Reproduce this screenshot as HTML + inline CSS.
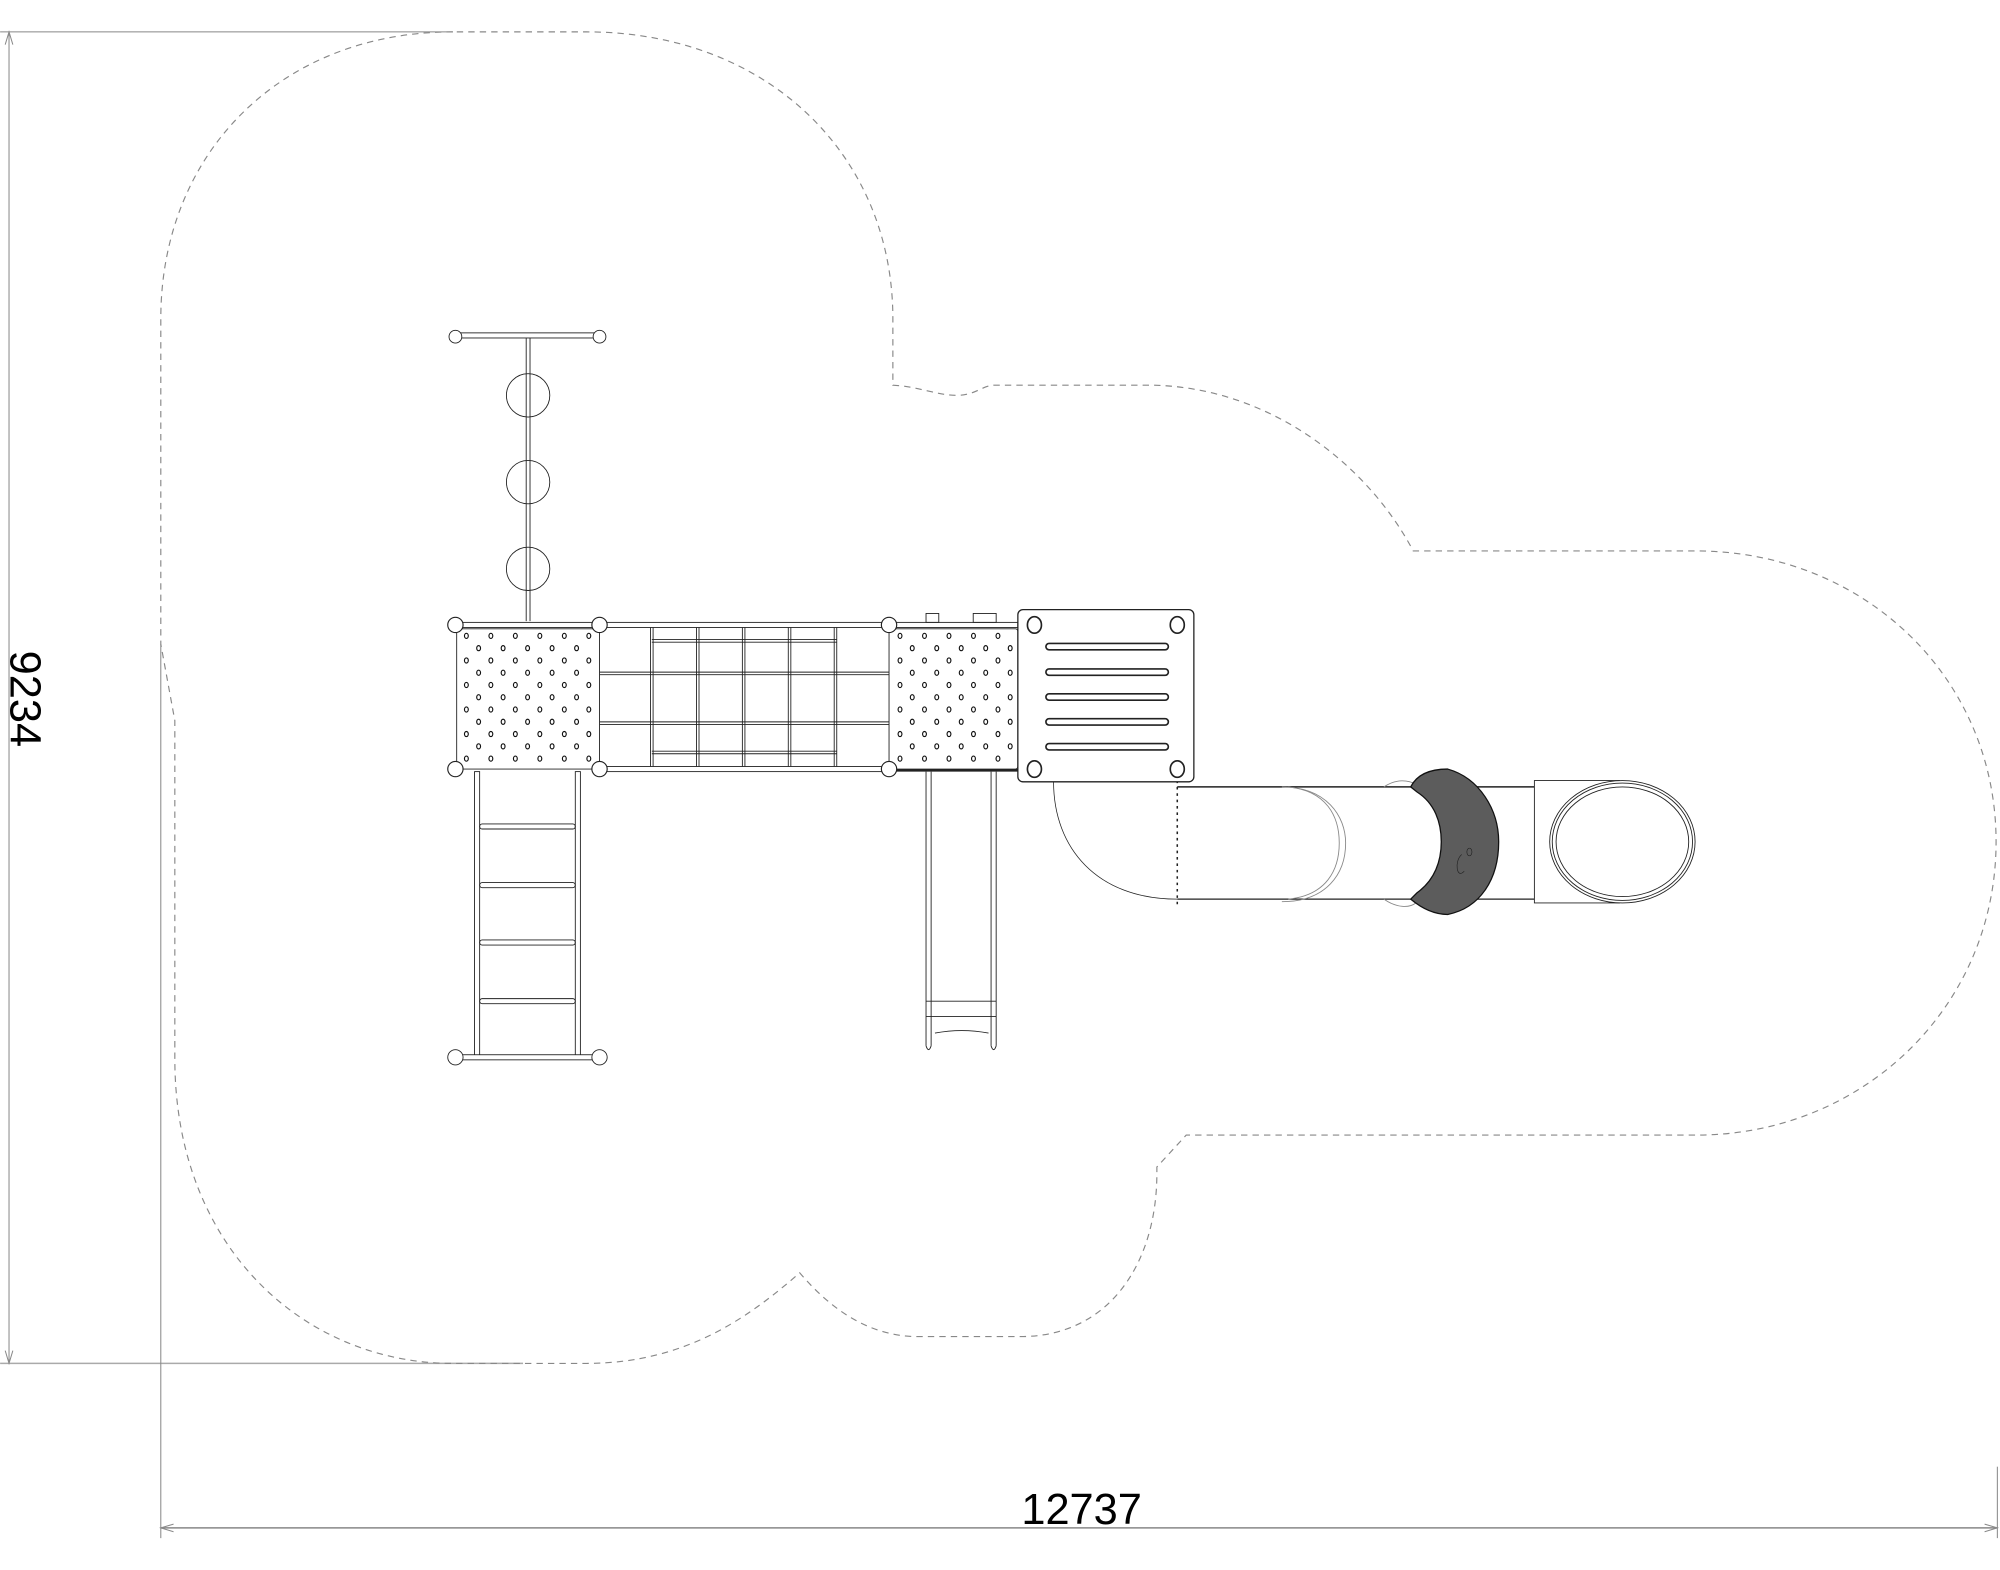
<!DOCTYPE html>
<html><head><meta charset="utf-8"><style>
html,body{margin:0;padding:0;background:#fff;}
svg{display:block}
</style></head><body>
<svg id="s" width="2000" height="1570" viewBox="0 0 1568 1231" xmlns="http://www.w3.org/2000/svg" font-family="Liberation Sans, sans-serif">
<!-- dimension lines -->
<g stroke="#888" stroke-width="0.8" fill="none">
<line x1="7" y1="25" x2="7" y2="1069"/>
<line x1="0" y1="25" x2="355" y2="25"/>
<line x1="0" y1="1069" x2="410" y2="1069" stroke="#aaa" stroke-width="1.2"/>
<line x1="126" y1="505" x2="126" y2="1206"/>
<line x1="1566" y1="1150" x2="1566" y2="1206"/>
<line x1="126" y1="1198" x2="1566" y2="1198" stroke-width="1.2"/>
<path d="M4,35 L7,25 L10,35 M4,1059 L7,1069 L10,1059 M136,1195 L126,1198 L136,1201 M1556,1195 L1566,1198 L1556,1201"/>
</g>
<text x="848" y="1195" font-size="34" text-anchor="middle" fill="#000">12737</text>
<text transform="translate(8,548) rotate(90)" font-size="34" text-anchor="middle" fill="#000">9234</text>
<!-- dashed boundary -->
<path fill="none" stroke="#888" stroke-width="0.9" stroke-dasharray="5,4" d="
M355,25 C220,25 126,120 126,250 L126,505 L137,565 L137,830 C137,980 240,1069 355,1069 L460,1069
C540,1069 590,1030 627,998 C650,1025 680,1048 720,1048 L800,1048 C870,1048 907,990 907,920 L907,915 L930,890
L1330,890 C1460,890 1565,790 1565,660 C1565,530 1460,432 1330,432 L1108,432
C1070,360 990,302 900,302 L780,302 C770,302 765,310 750,310 C735,310 720,303 700,302 L700,250
C700,120 600,25 460,25 Z"/>
<g stroke="#222" stroke-width="0.7" fill="none">
<!-- top pole -->
<rect x="357" y="261" width="113" height="4" fill="#fff"/>
<line x1="412.5" y1="265" x2="412.5" y2="487"/><line x1="415.5" y1="265" x2="415.5" y2="487"/>
<circle cx="414" cy="310" r="17"/><circle cx="414" cy="378" r="17"/><circle cx="414" cy="446" r="17"/>
<circle cx="357" cy="264" r="5" fill="#fff"/><circle cx="470" cy="264" r="5" fill="#fff"/>
<!-- left deck -->
<rect x="358" y="493" width="112" height="110" rx="2" fill="#fff"/>
<rect x="357" y="488" width="113" height="4" fill="#fff"/>
<!-- net -->
<rect x="470" y="488" width="227" height="4" fill="#fff"/>
<rect x="470" y="601" width="227" height="4" fill="#fff"/>
<g id="net"></g>
<line x1="470" y1="527" x2="697" y2="527"/><line x1="470" y1="529" x2="697" y2="529"/>
<line x1="470" y1="566" x2="697" y2="566"/><line x1="470" y1="568" x2="697" y2="568"/>
<line x1="511" y1="501.5" x2="656" y2="501.5"/><line x1="511" y1="503.5" x2="656" y2="503.5"/>
<line x1="511" y1="589" x2="656" y2="589"/><line x1="511" y1="591" x2="656" y2="591"/>
<!-- ladder -->
<rect x="372" y="605" width="4" height="223" fill="#fff"/>
<rect x="451" y="605" width="4" height="223" fill="#fff"/>
<rect x="376" y="646" width="75" height="4" rx="2"/>
<rect x="376" y="692" width="75" height="4" rx="2"/>
<rect x="376" y="737" width="75" height="4" rx="2"/>
<rect x="376" y="783" width="75" height="4" rx="2"/>
<rect x="357" y="827" width="113" height="4" fill="#fff"/>
<circle cx="357" cy="829" r="6" fill="#fff"/><circle cx="470" cy="829" r="6" fill="#fff"/>
<!-- right deck -->
<rect x="697" y="493" width="101" height="110" rx="2" fill="#fff"/>
<rect x="697" y="488" width="101" height="4" fill="#fff"/>
<line x1="697" y1="604" x2="798" y2="604" stroke-width="2"/>
<rect x="726" y="481" width="10" height="7"/><rect x="763" y="481" width="18" height="7"/>
<!-- slide -->
<line x1="726" y1="605" x2="726" y2="820"/><line x1="730" y1="605" x2="730" y2="820"/>
<line x1="777" y1="605" x2="777" y2="820"/><line x1="781" y1="605" x2="781" y2="820"/>
<line x1="726" y1="785" x2="781" y2="785"/><line x1="726" y1="797" x2="781" y2="797"/>
<path d="M726,820 Q728,826 730,820 M777,820 Q779,826 781,820 M733,810 Q754,806 775,810"/>
<!-- corner balls -->
<g fill="#fff" stroke-width="0.9">
<circle cx="357" cy="490" r="6"/><circle cx="470" cy="490" r="6"/><circle cx="357" cy="603" r="6"/><circle cx="470" cy="603" r="6"/>
<circle cx="697" cy="490" r="6"/><circle cx="697" cy="603" r="6"/>
</g>
<!-- tube -->
<path d="M826,613 C826,665 860,705 923,705" stroke-width="0.6"/>
<line x1="923" y1="617" x2="1203" y2="617" stroke-width="1.2"/>
<line x1="923" y1="705" x2="1203" y2="705" stroke-width="1"/>
<line x1="923" y1="612" x2="923" y2="710" stroke-dasharray="2,3" stroke-width="1.2"/>
<path d="M1005,617 C1040,617 1055,640 1055,661 C1055,685 1040,707 1005,707" stroke="#888"/>
<path d="M1010,617 C1040,620 1050,640 1050,661 C1050,682 1040,702 1010,705" stroke="#888"/>
<path d="M1085,617 C1095,610 1105,612 1110,615 M1085,705 C1095,712 1105,712 1110,708" stroke="#888"/>
<!-- dark band -->
<path d="M1106,617 C1112,605 1125,603 1135,603 C1160,610 1175,635 1175,660 C1175,690 1160,712 1135,717 C1122,717 1112,710 1106,705 L1111,700 C1125,690 1130,675 1130,660 C1130,645 1125,630 1111,621 Z" fill="#5c5c5c" stroke="#111" stroke-width="1"/>
<path d="M1146,670 C1140,675 1142,690 1148,683 M1152,665 a2,3 0 1 0 0.1,0" stroke="#222" stroke-width="0.5"/>
<!-- end box -->
<path d="M1270,612 L1203,612 L1203,708 L1270,708" fill="#fff"/>
<ellipse cx="1272" cy="660" rx="57" ry="48" fill="#fff"/>
<ellipse cx="1272" cy="660" rx="55" ry="46"/>
<ellipse cx="1272" cy="660" rx="52" ry="43"/>
<!-- roof panel -->
<rect x="798" y="478" width="138" height="135" rx="4" fill="#fff" stroke-width="1"/>
<g stroke-width="1.3">
<ellipse cx="811" cy="490" rx="5.5" ry="6.5"/><ellipse cx="923" cy="490" rx="5.5" ry="6.5"/>
<ellipse cx="811" cy="603" rx="5.5" ry="6.5"/><ellipse cx="923" cy="603" rx="5.5" ry="6.5"/>
<rect x="820" y="504.5" width="96" height="5" rx="2.5"/>
<rect x="820" y="524.5" width="96" height="5" rx="2.5"/>
<rect x="820" y="544" width="96" height="5" rx="2.5"/>
<rect x="820" y="563.5" width="96" height="5" rx="2.5"/>
<rect x="820" y="583" width="96" height="5" rx="2.5"/>
</g>
</g>
<g id="dots" fill="none" stroke="#111" stroke-width="0.9"></g>
<script>
var ns="http://www.w3.org/2000/svg",d=document.getElementById("dots"),n=document.getElementById("net");
function el(p,t,a){var e=document.createElementNS(ns,t);for(var k in a)e.setAttribute(k,a[k]);p.appendChild(e);}
for(var r=0;r<11;r++){var y=498.6+r*9.62,a=(r%2==0);
 if(a){for(var i=0;i<6;i++)el(d,"ellipse",{cx:365.6+i*19.2,cy:y,rx:1.5,ry:2});}
 else{for(var i=0;i<5;i++)el(d,"ellipse",{cx:375.2+i*19.2,cy:y,rx:1.5,ry:2});}
 var x0=a?705.6:715.2;for(var i=0;i<5;i++)el(d,"ellipse",{cx:x0+i*19.2,cy:y,rx:1.5,ry:2});}
[511,547,583,619,655].forEach(function(x){el(n,"line",{x1:x-1,y1:492,x2:x-1,y2:601});el(n,"line",{x1:x+1,y1:492,x2:x+1,y2:601});});
</script>
</svg>
</body></html>
